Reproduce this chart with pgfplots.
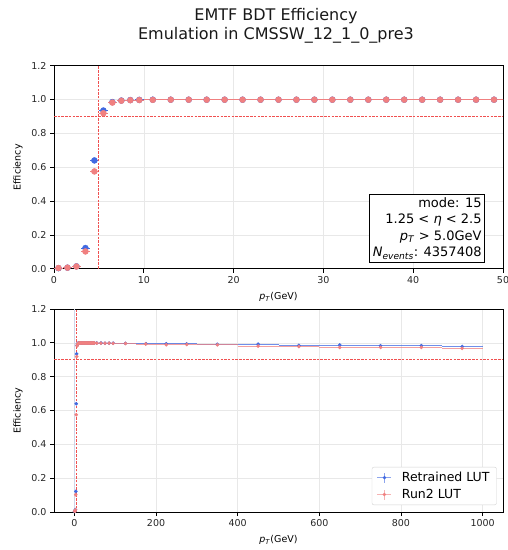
\documentclass[border=0pt]{standalone}
\usepackage{pgfplots}
\pgfplotsset{compat=1.18}
\usepackage{pgfplotstable}
\usepackage{fontspec}
\setmainfont{DejaVu Sans}
\definecolor{myblue}{RGB}{65,105,225}
\definecolor{myred}{RGB}{240,128,128}
\definecolor{refline}{RGB}{240,80,80}

\pgfplotstableread{
x    xe   b      eb     r      er
0.5  0.5  0.003  0.002  0.004  0.002
1.5  0.5  0.006  0.002  0.006  0.002
2.5  0.5  0.014  0.003  0.013  0.003
3.5  0.5  0.122  0.006  0.102  0.006
4.5  0.5  0.640  0.006  0.575  0.006
5.5  0.5  0.935  0.004  0.919  0.004
6.5  0.5  0.985  0.002  0.982  0.002
7.5  0.5  0.994  0.001  0.993  0.001
8.5  0.5  0.997  0.001  0.996  0.001
9.5  0.5  0.998  0.001  0.997  0.001
11   1    0.999  0.001  0.998  0.001
13   1    0.999  0.001  0.999  0.001
15   1    0.999  0.001  0.999  0.001
17   1    0.999  0.001  0.999  0.001
19   1    0.999  0.001  0.999  0.001
21   1    0.999  0.001  0.999  0.001
23   1    0.999  0.001  0.999  0.001
25   1    0.999  0.001  0.999  0.001
27   1    0.999  0.001  0.999  0.001
29   1    0.999  0.001  0.999  0.001
31   1    0.999  0.001  0.999  0.001
33   1    0.999  0.001  0.999  0.001
35   1    0.999  0.001  0.999  0.001
37   1    0.999  0.001  0.999  0.001
39   1    0.999  0.001  0.999  0.001
41   1    0.999  0.001  0.999  0.001
43   1    0.999  0.001  0.999  0.001
45   1    0.999  0.001  0.999  0.001
47   1    0.999  0.001  0.999  0.001
49   1    0.999  0.001  0.999  0.001
55   5    0.999  0.001  0.998  0.001
65   5    0.999  0.001  0.998  0.001
75   5    0.998  0.001  0.998  0.001
85   5    0.998  0.001  0.998  0.001
95   5    0.998  0.001  0.997  0.001
125  25   0.997  0.002  0.996  0.002
175  25   0.995  0.002  0.993  0.002
225  25   0.994  0.003  0.988  0.003
275  25   0.994  0.003  0.990  0.003
350  50   0.991  0.003  0.988  0.003
450  50   0.992  0.004  0.981  0.004
550  50   0.985  0.004  0.978  0.004
650  50   0.987  0.005  0.973  0.005
750  50   0.983  0.005  0.973  0.005
850  50   0.983  0.005  0.973  0.005
950  50   0.978  0.006  0.967  0.006
}\eff

\pgfplotsset{
  effaxis/.style={
    scale only axis, width=449pt, height=203pt,
    anchor=south west,
    ymin=0, ymax=1.2, ytick={0,0.2,...,1.2},
    yticklabel style={/pgf/number format/.cd, fixed, fixed zerofill, precision=1},
    xticklabel style={/pgf/number format/.cd, 1000 sep={}},
    /pgf/number format/assume math mode=true,
    tick label style={font=\fontsize{9.5}{11}\selectfont, text=black!85},
    label style={font=\fontsize{9.5}{11}\selectfont},
    xtick pos=left, ytick pos=left, tick align=outside,
    major tick length=4pt,
    every tick/.style={black, line width=0.7pt},
    axis line style={black, line width=0.8pt},
    grid=major, major grid style={gray!18, line width=0.4pt},
    ylabel={Efficiency},
    xlabel={\textit{p}\textsubscript{\textit{T}}(GeV)},
    ylabel style={at={(axis description cs:-0.0802,0.5)}, anchor=center},
    xlabel style={at={(axis description cs:0.5,-0.138)}, anchor=center},
    clip=true,
  },
}
\tikzset{refl/.style={draw=refline, line width=0.9pt, dash pattern=on 2.5pt off 1.2pt}}

\begin{document}
\begin{tikzpicture}[x=1pt,y=1pt]
\path[use as bounding box] (0,0) rectangle (508,550);
\node[font=\fontsize{16}{18.5}\selectfont, align=center, text=black!90] at (276,524) {EMTF BDT Efficiency\\Emulation in CMSSW\_12\_1\_0\_pre3};

% top axis
\begin{axis}[effaxis, at={(54pt,281.3pt)},
  xmin=0, xmax=50, xtick={0,10,...,50}]
\addplot[forget plot, only marks, mark=*, mark size=3pt, myblue,
  error bars/.cd, x dir=both, x explicit, y dir=both, y explicit,
  error mark=none, error bar style={line width=0.8pt, myblue}]
  table[x=x, y=b, x error=xe, y error=eb]{\eff};
\addplot[forget plot, only marks, mark=*, mark size=3pt, myred,
  error bars/.cd, x dir=both, x explicit, y dir=both, y explicit,
  error mark=none, error bar style={line width=0.8pt, myred}]
  table[x=x, y=r, x error=xe, y error=er]{\eff};
\draw[refl] (axis cs:5,0) -- (axis cs:5,1.2);
\draw[refl] (axis cs:0,0.9) -- (axis cs:50,0.9);
\node[draw=black, line width=0.9pt, fill=white, anchor=south east, align=right,
  font=\fontsize{13}{16.5}\selectfont, inner xsep=3pt, inner ysep=3pt]
  at (rel axis cs:0.96,0.03)
  {mode: 15\\1.25 < \textit{η} < 2.5\\\textit{p}\textsubscript{\textit{T}} > 5.0GeV\\\textit{N}\textsubscript{\textit{events}}: 4357408};
\end{axis}

% bottom axis
\begin{axis}[effaxis, at={(54pt,38pt)},
  xmin=-50, xmax=1050, xtick={0,200,...,1000},
  legend style={at={(rel axis cs:0.986,0.034)}, anchor=south east,
    draw=gray!35, rounded corners=2pt, fill=white,
    font=\fontsize{12.5}{14}\selectfont, row sep=2pt, inner xsep=5pt, inner ysep=3pt},
  legend cell align=left]
\addplot[forget plot, gray!45!myblue!30, line width=0.8pt] coordinates {(0,0) (0,1.2)};
\addplot[forget plot, only marks, mark=*, mark size=1.6pt, myblue,
  error bars/.cd, x dir=both, x explicit, y dir=both, y explicit,
  error mark=none, error bar style={line width=1pt, myblue, opacity=0.75}]
  table[x=x, y=b, x error=xe, y error=eb]{\eff};
\addplot[forget plot, only marks, mark=*, mark size=1.6pt, myred,
  error bars/.cd, x dir=both, x explicit, y dir=both, y explicit,
  error mark=none, error bar style={line width=1pt, myred, opacity=0.75}]
  table[x=x, y=r, x error=xe, y error=er]{\eff};
\draw[refl] (axis cs:5,0) -- (axis cs:5,1.2);
\draw[refl] (axis cs:-50,0.9) -- (axis cs:1050,0.9);
\addlegendimage{legend image code/.code={
  \draw[myblue!60, line width=0.9pt] (2pt,0pt) -- (16pt,0pt);
  \draw[myblue!60, line width=0.9pt] (9pt,-5pt) -- (9pt,5pt);
  \fill[myblue] (9pt,0pt) circle (1.5pt);}}
\addlegendentry{\hspace{8pt}Retrained LUT}
\addlegendimage{legend image code/.code={
  \draw[myred!60, line width=0.9pt] (2pt,0pt) -- (16pt,0pt);
  \draw[myred!60, line width=0.9pt] (9pt,-5pt) -- (9pt,5pt);
  \fill[myred] (9pt,0pt) circle (1.5pt);}}
\addlegendentry{\hspace{8pt}Run2 LUT}
\end{axis}
\end{tikzpicture}
\end{document}
